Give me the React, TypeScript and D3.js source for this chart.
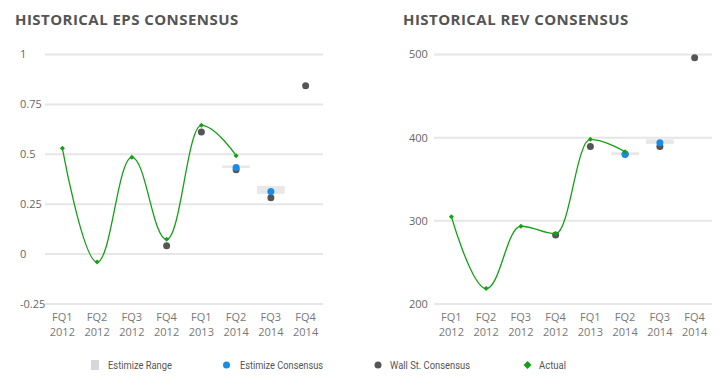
import React from "react";
import * as d3 from "d3";

const quarters = ["FQ1", "FQ2", "FQ3", "FQ4", "FQ1", "FQ2", "FQ3", "FQ4"];
const years = ["2012", "2012", "2012", "2012", "2013", "2014", "2014", "2014"];

const epsActual = [0.53, -0.04, 0.485, 0.074, 0.645, 0.493, null, null];
const epsWallSt = [null, null, null, 0.042, 0.612, 0.423, 0.282, 0.844];
const epsEstimize = [null, null, null, null, null, 0.434, 0.314, null];
const epsRangeLow = [null, null, null, null, null, 0.434, 0.302, null];
const epsRangeHigh = [null, null, null, null, null, 0.444, 0.342, null];
const epsTicks = [-0.25, 0, 0.25, 0.5, 0.75, 1];

const revActual = [305, 218.5, 293.5, 284.5, 398, 383, null, null];
const revWallSt = [null, null, null, 283, 389.5, 380, 389.5, 496];
const revEstimize = [null, null, null, null, null, 380, 394, null];
const revRangeLow = [null, null, null, null, null, 379, 392.5, null];
const revRangeHigh = [null, null, null, null, null, 382.5, 398, null];
const revTicks = [200, 300, 400, 500];

const GREEN = "#14a014";
const BLUE = "#1a8be6";
const DARK = "#555555";
const GRID = "#e6e6e6";
const FONT = "'Open Sans', 'Liberation Sans', sans-serif";

type Pt = { x: number; y: number };

// highcharts-like spline through the points
function splinePath(pts: Pt[]) {
  const smoothing = 1.5;
  const denom = smoothing + 1;
  const rc: (Pt | null)[] = pts.map(() => null);
  let d = `M${pts[0].x},${pts[0].y}`;
  for (let i = 1; i < pts.length; i++) {
    const p = pts[i];
    const last = pts[i - 1];
    const next = pts[i + 1];
    let lcx = p.x, lcy = p.y;
    if (next) {
      lcx = (smoothing * p.x + last.x) / denom;
      lcy = (smoothing * p.y + last.y) / denom;
      const rcx = (smoothing * p.x + next.x) / denom;
      let rcy = (smoothing * p.y + next.y) / denom;
      let corr = 0;
      if (rcx !== lcx) {
        corr = ((rcy - lcy) * (rcx - p.x)) / (rcx - lcx) + p.y - rcy;
      }
      lcy += corr;
      rcy += corr;
      if (lcy > last.y && lcy > p.y) {
        lcy = Math.max(last.y, p.y);
        rcy = 2 * p.y - lcy;
      } else if (lcy < last.y && lcy < p.y) {
        lcy = Math.min(last.y, p.y);
        rcy = 2 * p.y - lcy;
      }
      if (rcy > next.y && rcy > p.y) {
        rcy = Math.max(next.y, p.y);
        lcy = 2 * p.y - rcy;
      } else if (rcy < next.y && rcy < p.y) {
        rcy = Math.min(next.y, p.y);
        lcy = 2 * p.y - rcy;
      }
      rc[i] = { x: rcx, y: rcy };
    }
    const r = rc[i - 1] || last;
    d += `C${r.x},${r.y},${lcx},${lcy},${p.x},${p.y}`;
  }
  return d;
}

function Panel(props: {
  title: string;
  left: number;
  right: number;
  titleX: number;
  labelX: number;
  domain: [number, number];
  ticks: number[];
  tickFmt: (v: number) => string;
  actual: (number | null)[];
  wallSt: (number | null)[];
  estimize: (number | null)[];
  low: (number | null)[];
  high: (number | null)[];
}) {
  const x = d3
    .scaleBand<number>()
    .domain(quarters.map((_, i) => i))
    .range([props.left, props.right]);
  const y = d3.scaleLinear().domain(props.domain).range([304, 54.5]);
  const cx = (i: number) => (x(i) as number) + x.bandwidth() / 2;

  const pts: Pt[] = [];
  props.actual.forEach((v, i) => {
    if (v != null) pts.push({ x: cx(i), y: y(v) });
  });

  return (
    <g>
      <text x={props.titleX} y={25} fontFamily={FONT} fontWeight={700} fontSize={15} letterSpacing={0.45} fill={DARK}>
        {props.title}
      </text>
      {props.ticks.map((t) => (
        <g key={t}>
          <line x1={props.left} x2={props.right} y1={y(t)} y2={y(t)} stroke={GRID} strokeWidth={2} />
          <text x={props.labelX} y={y(t)} dy="0.35em" fontFamily={FONT} fontSize={11} fill="#666">
            {props.tickFmt(t)}
          </text>
        </g>
      ))}
      {quarters.map((q, i) => (
        <g key={i} fontFamily={FONT} fontSize={11} fill="#777" textAnchor="middle">
          <text x={cx(i)} y={321}>{q}</text>
          <text x={cx(i)} y={336}>{years[i]}</text>
        </g>
      ))}
      {props.low.map((lo, i) => {
        const hi = props.high[i];
        if (lo == null || hi == null) return null;
        const w = x.bandwidth() * 0.8;
        return (
          <rect key={i} x={cx(i) - w / 2} y={y(hi)} width={w} height={Math.max(2.5, y(lo) - y(hi))} fill="#e8e8e8" />
        );
      })}
      {props.wallSt.map((v, i) =>
        v == null ? null : <circle key={i} cx={cx(i)} cy={y(v)} r={3.5} fill={DARK} />
      )}
      {props.estimize.map((v, i) =>
        v == null ? null : <circle key={i} cx={cx(i)} cy={y(v)} r={3.5} fill={BLUE} />
      )}
      <path d={splinePath(pts)} fill="none" stroke={GREEN} strokeWidth={1.3} />
      {pts.map((p, i) => (
        <path key={i} d={`M${p.x},${p.y - 2.5}L${p.x + 2.5},${p.y}L${p.x},${p.y + 2.5}L${p.x - 2.5},${p.y}Z`} fill={GREEN} />
      ))}
    </g>
  );
}

export default function App() {
  const legendY = 365;
  return (
    <div style={{ position: "absolute", left: 0, top: 0 }}>
      <svg width={725} height={386} style={{ display: "block", background: "#fff" }}>
        <Panel
          title="HISTORICAL EPS CONSENSUS"
          left={45}
          right={323}
          titleX={15}
          labelX={20}
          domain={[-0.25, 1]}
          ticks={epsTicks}
          tickFmt={(v) => String(v)}
          actual={epsActual}
          wallSt={epsWallSt}
          estimize={epsEstimize}
          low={epsRangeLow}
          high={epsRangeHigh}
        />
        <Panel
          title="HISTORICAL REV CONSENSUS"
          left={434}
          right={712}
          titleX={403}
          labelX={409}
          domain={[200, 500]}
          ticks={revTicks}
          tickFmt={(v) => String(v)}
          actual={revActual}
          wallSt={revWallSt}
          estimize={revEstimize}
          low={revRangeLow}
          high={revRangeHigh}
        />
        <g fontFamily="Roboto, 'Open Sans', sans-serif" fontSize={10.5} fill={DARK}>
          <rect x={91} y={legendY - 5} width={8} height={10} fill="#d6d6db" />
          <text x={108} y={legendY} dy="0.35em" textLength={64} lengthAdjust="spacingAndGlyphs">Estimize Range</text>
          <circle cx={226.5} cy={legendY} r={3.5} fill={BLUE} />
          <text x={240} y={legendY} dy="0.35em" textLength={83} lengthAdjust="spacingAndGlyphs">Estimize Consensus</text>
          <circle cx={378} cy={legendY} r={3.5} fill={DARK} />
          <text x={390} y={legendY} dy="0.35em" textLength={80} lengthAdjust="spacingAndGlyphs">Wall St. Consensus</text>
          <path d={`M527.5,${legendY - 4}L531.5,${legendY}L527.5,${legendY + 4}L523.5,${legendY}Z`} fill={GREEN} />
          <text x={539} y={legendY} dy="0.35em" textLength={27} lengthAdjust="spacingAndGlyphs">Actual</text>
        </g>
      </svg>
    </div>
  );
}
